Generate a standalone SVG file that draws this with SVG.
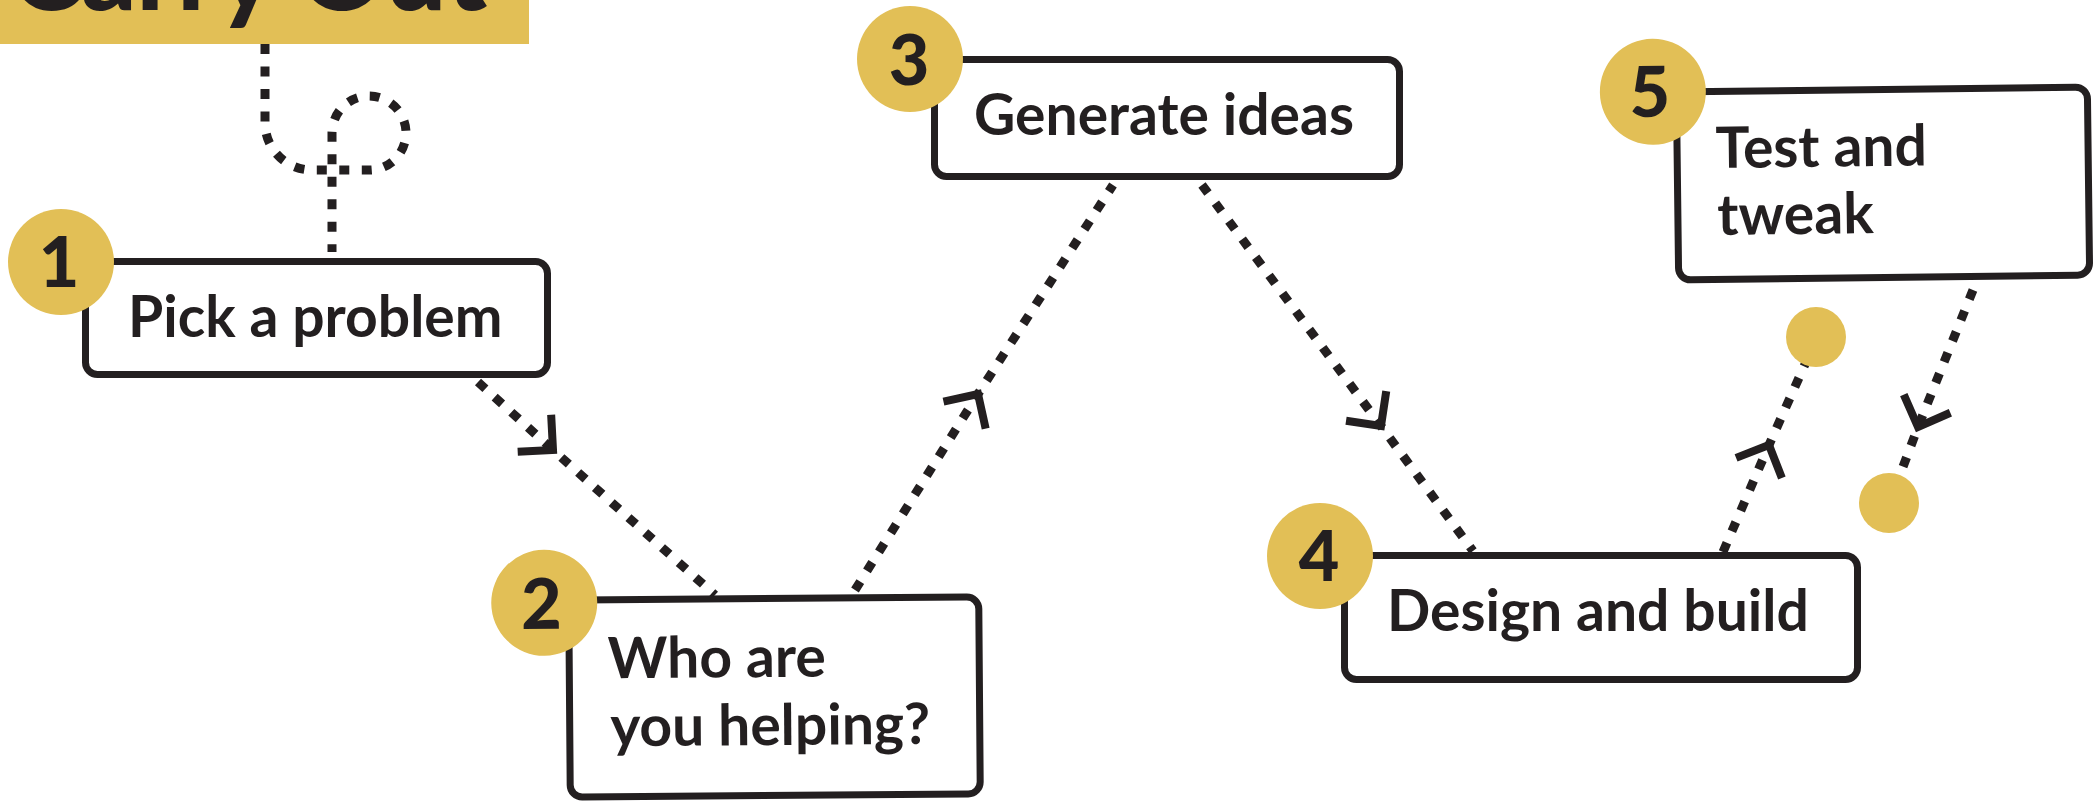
<svg xmlns="http://www.w3.org/2000/svg" width="2096" height="801" viewBox="0 0 2096 801">
  <style>
    .box { fill: #ffffff; stroke: #231f20; stroke-width: 7; }
    .badge { fill: #e2bf56; }
    .dot { fill: #e2bf56; }
    .num { font-family: Lato, "Liberation Sans", sans-serif; font-weight: 900; font-size: 70px; fill: #231f20; text-anchor: middle; }
    .lbl { font-family: Lato, "Liberation Sans", sans-serif; font-weight: 700; font-size: 57px; fill: #231f20; }
    .title { font-family: Lato, "Liberation Sans", sans-serif; font-weight: 900; font-size: 108px; fill: #231f20; }
    .dash { fill: none; stroke: #231f20; stroke-width: 9; stroke-dasharray: 10 12.5; }
    .arrow { marker-mid: url(#chev); }
  </style>
  <defs>
    <marker id="chev" markerUnits="userSpaceOnUse" viewBox="-40 -40 80 80" markerWidth="80" markerHeight="80" refX="0" refY="0" orient="auto" overflow="visible">
      <path d="M -25,-25 L 0,0 L -25,25" fill="none" stroke="#231f20" stroke-width="8" stroke-linejoin="miter" stroke-dasharray="none"/>
    </marker>
  </defs>

  <g id="title">
    <rect x="0" y="0" width="529" height="44" fill="#e2bf56"/>
    <text class="title" x="10" y="10">Carry Out</text>
  </g>

  <g id="connectors">
    <path class="dash" d="M265,44 V123 A47,47 0 0 0 312,170 H369 A37,37 0 1 0 332,133 V252"/>
    <path class="dash arrow" d="M478,382 L553,450 L715,595"/>
    <path class="dash arrow" d="M855,590 L978,394 L1113,185"/>
    <path class="dash arrow" d="M1202,185 L1381,426 L1473,551"/>
    <path class="dash arrow" d="M1723,552 L1769,445 L1806,362"/>
    <path class="dash arrow" d="M1973,290 L1918,427 L1898,480"/>
  </g>

  <g id="node-1">
    <rect class="box" x="85.5" y="261.5" width="462" height="113" rx="12"/>
    <circle class="badge" cx="61" cy="262" r="53"/>
    <text class="num" x="59" y="287">1</text>
    <text class="lbl" x="128" y="337">Pick a problem</text>
  </g>

  <g id="node-2" transform="rotate(-0.45 774 697)">
    <rect class="box" x="569.5" y="598.5" width="410" height="197" rx="12"/>
    <circle class="badge" cx="545" cy="601" r="53"/>
    <text class="num" x="542" y="627">2</text>
    <text class="lbl" x="608" y="677">Who are</text>
    <text class="lbl" x="610" y="745">you helping?</text>
  </g>

  <g id="node-3">
    <rect class="box" x="934.5" y="59.5" width="465" height="117" rx="12"/>
    <circle class="badge" cx="910" cy="59" r="53"/>
    <text class="num" x="909" y="85">3</text>
    <text class="lbl" x="974" y="135">Generate ideas</text>
  </g>

  <g id="node-4">
    <rect class="box" x="1344.5" y="555.5" width="513" height="124" rx="12"/>
    <circle class="badge" cx="1320" cy="556" r="53"/>
    <text class="num" x="1319" y="581">4</text>
    <text class="lbl" x="1387" y="631">Design and build</text>
  </g>

  <g id="node-5" transform="rotate(-0.7 1883 183)">
    <rect class="box" x="1677.5" y="89.5" width="411" height="188" rx="12"/>
    <circle class="badge" cx="1654" cy="89" r="53"/>
    <text class="num" x="1651" y="114">5</text>
    <text class="lbl" x="1716" y="166">Test and</text>
    <text class="lbl" x="1717" y="233">tweak</text>
  </g>

  <g id="dot-a">
    <circle class="dot" cx="1816" cy="337" r="30"/>
  </g>
  <g id="dot-b">
    <circle class="dot" cx="1889" cy="503" r="30"/>
  </g>
</svg>
